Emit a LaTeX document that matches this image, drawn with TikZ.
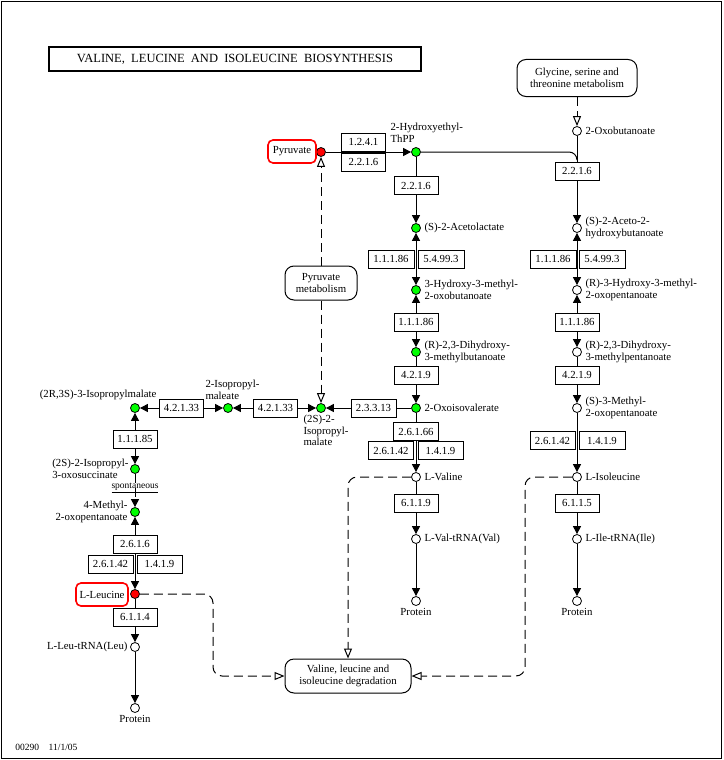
\documentclass[tikz,border=0pt]{standalone}
\usepackage{fontspec}
\setmainfont{Liberation Serif}
\usetikzlibrary{arrows.meta}
\begin{document}
\begin{tikzpicture}[x=1pt,y=-1pt,line width=1pt,
  every node/.style={font=\fontsize{10.8}{11.5}\selectfont},
  cpd/.style={circle,draw,line width=0.8pt,minimum size=9pt,inner sep=0pt},
  enz/.style={draw,fill=white,minimum height=18pt,minimum width=44pt,inner sep=1pt},
  lbl/.style={inner sep=0pt,align=left},
  irr/.style={-{Triangle[length=8pt,width=8pt]}},
  rev/.style={{Triangle[length=8pt,width=8pt]}-{Triangle[length=8pt,width=8pt]}},
  dsh/.style={dash pattern=on 9pt off 5pt},
  opn/.style={-{Triangle[open,length=10pt,width=8pt]}},
  map/.style={draw,rounded corners=9pt,align=center,fill=white,inner sep=0pt},
  redbox/.style={draw=red,line width=1.6pt,rounded corners=5pt,inner sep=0pt}]
\useasboundingbox (0,0) rectangle (723,760);
\draw[line width=1pt] (1.5,1.5) rectangle (721.5,758.5);
\node[draw,line width=2.5pt,minimum width=372pt,minimum height=24pt,inner sep=0pt,font=\fontsize{12.5}{13}\selectfont] (title) at (235,59) {VALINE,\ \ LEUCINE\ \ AND\ \ ISOLEUCINE\ \ BIOSYNTHESIS};
% compounds
\node[cpd] (oxobut) at (577,131) {};
\node[cpd,fill=red] (pyr) at (321,152) {};
\node[cpd,fill=green] (thpp) at (416,152) {};
\node[cpd,fill=green] (acetol) at (416,228) {};
\node[cpd,fill=green] (hmob) at (416,290) {};
\node[cpd,fill=green] (dhmb) at (416,352) {};
\node[cpd,fill=green] (oiv) at (416,408) {};
\node[cpd,fill=green] (ipm) at (321,408) {};
\node[cpd,fill=green] (ipmal) at (228,408) {};
\node[cpd,fill=green] (ipm3) at (135,408) {};
\node[cpd,fill=green] (oxos) at (135,469) {};
\node[cpd,fill=green] (mop) at (135,512) {};
\node[cpd,fill=red] (leu) at (135,594) {};
\node[cpd] (leutrna) at (135,647) {};
\node[cpd] (protL) at (135,708) {};
\node[cpd] (val) at (416,477) {};
\node[cpd] (valtrna) at (416,539) {};
\node[cpd] (protV) at (416,601) {};
\node[cpd] (ahb) at (577,228) {};
\node[cpd] (hmop) at (577,290) {};
\node[cpd] (dhmp) at (577,352) {};
\node[cpd] (mop3) at (577,408) {};
\node[cpd] (ile) at (577,477) {};
\node[cpd] (iletrna) at (577,539) {};
\node[cpd] (protI) at (577,601) {};
% maps
\node[map,minimum width=120pt,minimum height=37pt] (gly) at (577,78) {Glycine, serine and\\threonine metabolism};
\node[map,minimum width=72pt,minimum height=34pt] (pm) at (321,283) {Pyruvate\\metabolism};
\node[map,minimum width=126pt,minimum height=34pt] (deg) at (348,676) {Valine, leucine and\\isoleucine degradation};
% labels
\node[lbl,anchor=west] (l1) at (585,131) {2-Oxobutanoate};
\node[redbox,minimum width=48pt,minimum height=23pt] (l2) at (292,151.5) {Pyruvate};
\node[lbl,anchor=north west] (l3) at (390,123) {2-Hydroxyethyl-\\ThPP};
\node[lbl,anchor=west] (l4) at (424,228) {(S)-2-Acetolactate};
\node[lbl,anchor=west] (l5) at (424,290) {3-Hydroxy-3-methyl-\\2-oxobutanoate};
\node[lbl,anchor=west] (l6) at (424,352) {(R)-2,3-Dihydroxy-\\3-methylbutanoate};
\node[lbl,anchor=west] (l7) at (424,408) {2-Oxoisovalerate};
\node[lbl,anchor=north west] (l8) at (303,415) {(2S)-2-\\Isopropyl-\\malate};
\node[lbl,anchor=south west] (l9) at (205,400) {2-Isopropyl-\\maleate};
\node[lbl,anchor=south east] (l10) at (157,400) {(2R,3S)-3-Isopropylmalate};
\node[lbl,anchor=east] (l11) at (129,469) {(2S)-2-Isopropyl-\\3-oxosuccinate};
\node[inner sep=0pt,font=\fontsize{9.5}{10}\selectfont] (l12) at (135,488) {\underline{spontaneous}};
\node[lbl,anchor=east,align=right] (l13) at (128,512) {4-Methyl-\\2-oxopentanoate};
\node[redbox,minimum width=52pt,minimum height=23pt] (l14) at (102,594.5) {L-Leucine};
\node[lbl,anchor=east] (l15) at (128,647) {L-Leu-tRNA(Leu)};
\node[lbl,anchor=north] (l16) at (135,715) {Protein};
\node[lbl,anchor=west] (l17) at (424,477) {L-Valine};
\node[lbl,anchor=west] (l18) at (424,539) {L-Val-tRNA(Val)};
\node[lbl,anchor=north] (l19) at (416,608) {Protein};
\node[lbl,anchor=west] (l20) at (585,228) {(S)-2-Aceto-2-\\hydroxybutanoate};
\node[lbl,anchor=west] (l21) at (585,290) {(R)-3-Hydroxy-3-methyl-\\2-oxopentanoate};
\node[lbl,anchor=west] (l22) at (585,352) {(R)-2,3-Dihydroxy-\\3-methylpentanoate};
\node[lbl,anchor=west] (l23) at (585,408) {(S)-3-Methyl-\\2-oxopentanoate};
\node[lbl,anchor=west] (l24) at (585,477) {L-Isoleucine};
\node[lbl,anchor=west] (l25) at (585,539) {L-Ile-tRNA(Ile)};
\node[lbl,anchor=north] (l26) at (577,608) {Protein};
\node[lbl,anchor=west,font=\fontsize{9.5}{10}\selectfont] (l27) at (15,747) {00290\quad 11/1/05};
% edges
\draw[irr] (pyr) -- (thpp);
\draw[irr] (thpp) -- (acetol);
\draw (thpp) -- (569,152) to[out=0,in=90] (577,160);
\draw[irr] (oxobut) -- (ahb);
\draw[rev] (acetol) -- (hmob);
\draw[rev] (hmob) -- (dhmb);
\draw[irr] (dhmb) -- (oiv);
\draw[irr] (oiv) -- (ipm);
\draw[rev] (ipm) -- (ipmal);
\draw[rev] (ipmal) -- (ipm3);
\draw[rev] (ipm3) -- (oxos);
\draw[irr,dsh] (oxos) -- (mop);
\draw[rev] (mop) -- (leu);
\draw[irr] (leu) -- (leutrna);
\draw[irr] (leutrna) -- (protL);
\draw[irr] (oiv) -- (val);
\draw[irr] (val) -- (valtrna);
\draw[irr] (valtrna) -- (protV);
\draw[rev] (ahb) -- (hmop);
\draw[rev] (hmop) -- (dhmp);
\draw[irr] (dhmp) -- (mop3);
\draw[irr] (mop3) -- (ile);
\draw[irr] (ile) -- (iletrna);
\draw[irr] (iletrna) -- (protI);
\draw[dsh,opn] (gly) -- (oxobut);
\draw[dsh,opn] (pm) -- (pyr);
\draw[dsh,opn] (pm) -- (ipm);
\draw[dsh,opn,rounded corners=9pt] (val) -| (deg.north);
\draw[dsh,opn,rounded corners=9pt] (ile) -| (525,676) -- (deg.east);
\draw[dsh,opn,rounded corners=9pt] (leu) -| (213,676) -- (deg.west);
% enzymes
\node[enz] (e1) at (363.5,142) {1.2.4.1};
\node[enz] (e2) at (363.5,162) {2.2.1.6};
\node[enz] (e3) at (416,185.5) {2.2.1.6};
\node[enz] (e4) at (577,171.5) {2.2.1.6};
\node[enz,minimum width=46pt] (e5) at (391,259) {1.1.1.86};
\node[enz,minimum width=46pt] (e6) at (441,259) {5.4.99.3};
\node[enz] (e7) at (416,322) {1.1.1.86};
\node[enz] (e8) at (416,375) {4.2.1.9};
\node[enz,minimum width=45pt] (e9) at (373.5,408) {2.3.3.13};
\node[enz] (e10) at (275.5,408) {4.2.1.33};
\node[enz] (e11) at (181.5,408) {4.2.1.33};
\node[enz] (e12) at (135,439) {1.1.1.85};
\node[enz] (e13) at (135,544) {2.6.1.6};
\node[enz,minimum width=45pt] (e14) at (110.5,564) {2.6.1.42};
\node[enz,minimum width=45pt] (e15) at (159.5,564) {1.4.1.9};
\node[enz] (e16) at (135,617) {6.1.1.4};
\node[enz,minimum width=45pt] (e17) at (416,431.5) {2.6.1.66};
\node[enz,minimum width=45pt] (e18) at (391,450.5) {2.6.1.42};
\node[enz,minimum width=45pt] (e19) at (440.5,450.5) {1.4.1.9};
\node[enz] (e20) at (416,503) {6.1.1.9};
\node[enz,minimum width=46pt] (e21) at (553,259) {1.1.1.86};
\node[enz,minimum width=46pt] (e22) at (602,259) {5.4.99.3};
\node[enz] (e23) at (577,322) {1.1.1.86};
\node[enz] (e24) at (577,375) {4.2.1.9};
\node[enz,minimum width=45pt] (e25) at (552.5,440.5) {2.6.1.42};
\node[enz,minimum width=46pt] (e26) at (602,440.5) {1.4.1.9};
\node[enz] (e27) at (577,503) {6.1.1.5};
\end{tikzpicture}
\end{document}
